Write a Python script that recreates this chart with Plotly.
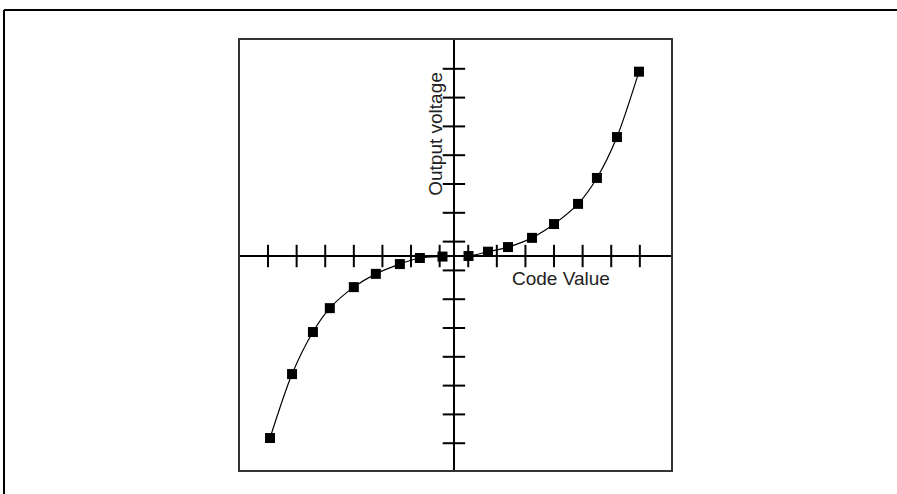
import plotly.graph_objects as go

# Transfer curve samples (code value -> output voltage), in axis-division units
code_value = [-6.43, -5.66, -4.93, -4.34, -3.50, -2.73, -1.89, -1.19, -0.40,
              0.51, 1.19, 1.89, 2.73, 3.50, 4.34, 5.00, 5.70, 6.47]
output_voltage = [-6.32, -4.10, -2.64, -1.81, -1.08, -0.62, -0.28, -0.07, -0.02,
                  0.00, 0.15, 0.31, 0.63, 1.11, 1.81, 2.71, 4.13, 6.40]

# Tick positions along the crossing axes (half-division offsets)
x_ticks = [-6.5, -5.5, -4.5, -3.5, -2.5, -1.5, -0.5, 0.5, 1.5, 2.5, 3.5, 4.5, 5.5, 6.5]
y_ticks = [-6.5, -5.5, -4.5, -3.5, -2.5, -1.5, -0.5, 0.5, 1.5, 2.5, 3.5, 4.5, 5.5, 6.5]

W, H = 897, 494
L, R, T, B = 240, 226, 40, 24

fig = go.Figure()

# Cross-axis tick marks
fig.add_trace(go.Scatter(
    x=x_ticks, y=[0] * len(x_ticks), mode="markers", hoverinfo="skip",
    marker=dict(symbol="line-ns", size=16, line=dict(color="black", width=2)),
))
fig.add_trace(go.Scatter(
    x=[0] * len(y_ticks), y=y_ticks, mode="markers", hoverinfo="skip",
    marker=dict(symbol="line-ew", size=16, line=dict(color="black", width=2)),
))

# Curve with square markers
fig.add_trace(go.Scatter(
    x=code_value, y=output_voltage, mode="lines+markers",
    line=dict(color="black", width=1.2, shape="spline", smoothing=0.8),
    marker=dict(symbol="square", size=10, color="black"),
))

axis_common = dict(
    showgrid=False, showticklabels=False, ticks="",
    showline=True, mirror=True, linecolor="#333", linewidth=2,
    zeroline=True, zerolinecolor="black", zerolinewidth=2,
)

fig.update_layout(
    width=W, height=H,
    margin=dict(l=L, r=R, t=T, b=B),
    paper_bgcolor="white", plot_bgcolor="white",
    showlegend=False,
    xaxis=dict(range=[-7.48, 7.59], **axis_common),
    yaxis=dict(range=[-7.43, 7.5], **axis_common),
    font=dict(family="Liberation Sans, Arial, sans-serif", color="#222"),
    annotations=[
        dict(text="Code Value", x=3.74, y=-0.78, xref="x", yref="y",
             showarrow=False, font=dict(size=19, color="#222")),
        dict(text="Output voltage", x=-0.63, y=4.24, xref="x", yref="y",
             showarrow=False, textangle=-90, font=dict(size=19, color="#222")),
    ],
)

# Outer frame (top and left edges)
pw, ph = W - L - R, H - T - B
px = lambda v: (v - L) / pw
py = lambda v: (H - B - v) / ph
fig.add_shape(type="line", xref="paper", yref="paper",
              x0=px(4), x1=px(W + 5), y0=py(10), y1=py(10),
              line=dict(color="black", width=2))
fig.add_shape(type="line", xref="paper", yref="paper",
              x0=px(4), x1=px(4), y0=py(10), y1=py(H + 5),
              line=dict(color="black", width=2))

fig.write_html("out.html")
